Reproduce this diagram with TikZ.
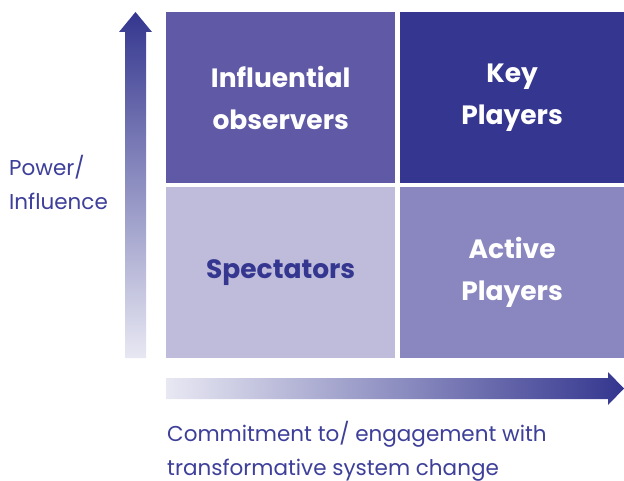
\documentclass[tikz,border=0pt]{standalone}
\usepackage{fontspec}
\setmainfont{Poppins}
\usetikzlibrary{positioning}

\definecolor{quaddark}{RGB}{52,54,143}
\definecolor{quadmid}{RGB}{95,89,166}
\definecolor{quadsoft}{RGB}{138,135,192}
\definecolor{quadpale}{RGB}{190,187,219}
\definecolor{axislight}{RGB}{232,232,243}
\definecolor{axisblue}{RGB}{61,63,153}

\begin{document}
\begin{tikzpicture}[
    x=1pt, y=-1pt,
    % quadrant boxes and axis captions
    quad/.style={rectangle, minimum width=229pt, minimum height=171pt, inner sep=0pt, align=center, text=white, font=\fontsize{26.5}{42}\selectfont\bfseries},
    axislabel/.style={text=axisblue, align=left, anchor=base west, inner sep=0pt, font=\fontsize{21.5}{34}\selectfont}
]

\useasboundingbox (0,0) rectangle (624,481);

% ==========================================
% The four quadrants
% ==========================================
\node[quad, fill=quadmid, anchor=north west] (observers) at (166,12) {Influential\\observers};
\node[quad, fill=quaddark, minimum width=225pt, right=4pt of observers] (keyplayers) {Key\\Players};
\node[quad, fill=quadpale, text=quaddark, below=3pt of observers] (spectators) {Spectators};
\node[quad, fill=quadsoft, minimum width=225pt, below=3pt of keyplayers] (activeplayers) {Active\\Players};

% ==========================================
% Axes (shaded block arrows)
% ==========================================
\shade[bottom color=axislight, top color=quaddark]
    (125,358) -- (125,32) -- (119,32) -- (135.5,12) -- (152,32) -- (146,32) -- (146,358) -- cycle;
\shade[left color=axislight, right color=quaddark]
    (166,378) -- (608,378) -- (608,372) -- (624,388.5) -- (608,405) -- (608,399) -- (166,399) -- cycle;

% captions sit on the baseline of their last line
\node[axislabel] (power) at (9,210) {Power/\\Influence};
\node[axislabel] (commitment) at (167,475) {Commitment to/ engagement with\\transformative system change};

\end{tikzpicture}
\end{document}
